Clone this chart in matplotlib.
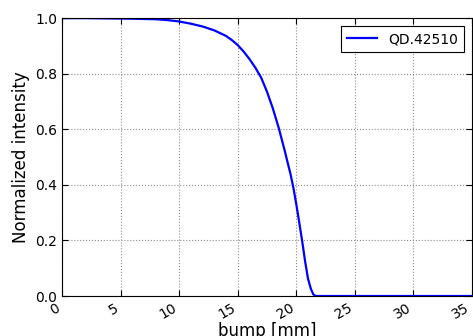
import matplotlib
matplotlib.use('Agg')
import matplotlib.pyplot as plt

# bump position [mm] vs normalized intensity for QD.42510
bump_mm = [0, 2, 4, 6, 8, 9, 10, 11, 12, 13, 14, 14.5, 15, 15.5, 16, 16.5,
           17, 17.5, 18, 18.5, 19, 19.25, 19.5, 19.75, 20, 20.25, 20.5,
           20.75, 21, 21.25, 21.45, 21.65, 22, 25, 30, 35]
intensity = [1.0, 1.0, 0.999, 0.998, 0.996, 0.993, 0.988, 0.98, 0.97, 0.956,
             0.936, 0.921, 0.903, 0.88, 0.853, 0.822, 0.786, 0.735, 0.675,
             0.605, 0.525, 0.482, 0.44, 0.39, 0.33, 0.265, 0.198, 0.125,
             0.062, 0.025, 0.006, 0.0, 0.0, 0.0, 0.0, 0.0]
series_label = 'QD.42510'

fig = plt.figure(figsize=(4.73, 3.36), dpi=100)
ax = fig.add_axes([0.131, 0.119, 0.867, 0.827])

ax.plot(bump_mm, intensity, color='blue', linewidth=1.6, label=series_label)

ax.set_xlim(0, 35)
ax.set_ylim(0, 1.0)
ax.set_xticks(range(0, 36, 5))
ax.set_yticks([0.0, 0.2, 0.4, 0.6, 0.8, 1.0])
ax.grid(True, color='0.55', linestyle=':', linewidth=0.8)
ax.tick_params(direction='in', top=True, right=True, labelsize=10, length=4)
for lbl in ax.get_xticklabels():
    lbl.set_rotation(30)
    lbl.set_ha('right')

ax.set_xlabel('bump [mm]', fontsize=12, labelpad=0)
ax.set_ylabel('Normalized intensity', fontsize=12)

leg = ax.legend(loc='upper right', fontsize=10, fancybox=False,
                framealpha=1, edgecolor='black', handlelength=2.2,
                borderaxespad=0.6)
leg.get_frame().set_linewidth(0.8)

fig.savefig('out.png', dpi=100)
